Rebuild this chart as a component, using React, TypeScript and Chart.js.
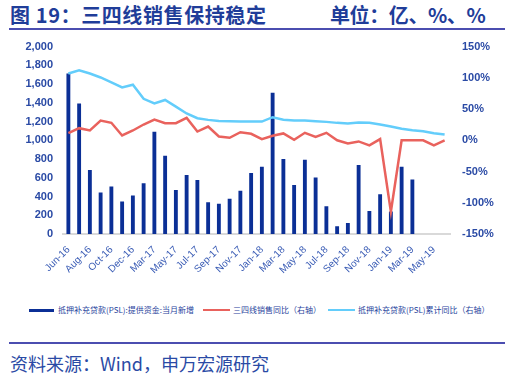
import React, { useEffect, useRef } from "react";
import { Chart, registerables } from "chart.js";

Chart.register(...registerables);

const categories = [
  "Jun-16", "Jul-16", "Aug-16", "Sep-16", "Oct-16", "Nov-16", "Dec-16", "Feb-17",
  "Mar-17", "Apr-17", "May-17", "Jun-17", "Jul-17", "Aug-17", "Sep-17", "Oct-17",
  "Nov-17", "Dec-17", "Jan-18", "Feb-18", "Mar-18", "Apr-18", "May-18", "Jun-18",
  "Jul-18", "Aug-18", "Sep-18", "Oct-18", "Nov-18", "Dec-18", "Jan-19", "Feb-19",
  "Mar-19", "Apr-19", "May-19", "Jun-19",
];

const pslMonthly = [
  1710, 1390, 680, 440, 503, 343, 407, 538, 1087, 832, 467, 627, 574, 336, 319, 372,
  457, 648, 713, 1505, 798, 520, 790, 600, 292, 80, 115, 733, 242, 422, 237, 715,
  578, null, null, null,
];

const salesYoY = [
  11.4, 19.4, 15.7, 31.6, 28, 7.7, 15.7, 25.3, 33.2, 27.4, 27.4, 35.9, 14, 22, 6.1, 4,
  13, 10.4, 1.9, 7.2, 11, 0.9, 12, 5.6, 12, 0, -5, -1.8, -8.2, 1.9, -114.4, 0,
  0, 0, -8, 0,
];

const pslCumYoY = [
  107, 112, 107, 100.6, 92.7, 84.7, 89, 66.4, 59, 64.6, 54, 43, 35.3, 32.7, 31, 30.5,
  30, 30, 30, 37, 33, 31.6, 31.6, 30.5, 29.5, 27.9, 27, 28.4, 27.9, 25.3, 22, 18.4,
  16.2, 14.6, 11.4, 9.3,
];

const leftTicks = [0, 200, 400, 600, 800, 1000, 1200, 1400, 1600, 1800, 2000];
const rightTicks = [-150, -100, -50, 0, 50, 100, 150];

const seriesNames = [
  "抵押补充贷款(PSL):提供资金:当月新增",
  "三四线销售同比（右轴）",
  "抵押补充贷款(PSL)累计同比（右轴）",
];

const BAR = "#0b2f96";
const RED = "#e9625d";
const CYAN = "#63cdfb";
const TEXT = "#2a4aa5";

export default function App() {
  const ref = useRef<HTMLCanvasElement | null>(null);

  useEffect(() => {
    if (!ref.current) return;
    const chart = new Chart(ref.current, {
      type: "bar",
      data: {
        labels: categories,
        datasets: [
          {
            type: "line",
            label: seriesNames[2],
            data: pslCumYoY,
            yAxisID: "y1",
            borderColor: CYAN,
            borderWidth: 2.5,
            pointRadius: 0,
            tension: 0,
            order: 1,
          },
          {
            type: "line",
            label: seriesNames[1],
            data: salesYoY,
            yAxisID: "y1",
            borderColor: RED,
            borderWidth: 2.5,
            pointRadius: 0,
            tension: 0,
            order: 0,
          },
          {
            type: "bar",
            label: seriesNames[0],
            data: pslMonthly,
            yAxisID: "y",
            backgroundColor: BAR,
            barThickness: 3.2,
            order: 2,
          },
        ],
      },
      options: {
        responsive: false,
        animation: false,
        layout: { padding: { top: 4, left: 0, right: 0, bottom: 0 } },
        plugins: { legend: { display: false }, tooltip: { enabled: false } },
        scales: {
          x: {
            grid: { display: false },
            border: { display: true, color: "#d9d9d9", width: 2 },
            ticks: {
              autoSkip: false,
              maxRotation: 45,
              minRotation: 45,
              padding: 2,
              color: "#3a5cb5",
              font: { family: "'Liberation Sans', Arial", size: 10 },
              callback: (_v: any, i: number) => (i % 2 === 0 ? categories[i] : ""),
            },
            afterFit: (s: any) => {
              s.height = 46;
            },
          },
          y: {
            position: "left",
            min: 0,
            max: 2000,
            grid: { display: false },
            border: { display: false },
            afterBuildTicks: (s: any) => {
              s.ticks = leftTicks.map((v) => ({ value: v }));
            },
            ticks: {
              padding: 2,
              color: TEXT,
              font: { family: "'Liberation Sans', Arial", size: 11, weight: "bold" },
              callback: (v: any) => Number(v).toLocaleString("en-US"),
            },
            afterFit: (s: any) => {
              s.width = 63;
            },
          },
          y1: {
            position: "right",
            min: -150,
            max: 150,
            grid: { display: false },
            border: { display: false },
            afterBuildTicks: (s: any) => {
              s.ticks = rightTicks.map((v) => ({ value: v }));
            },
            ticks: {
              padding: 4,
              color: TEXT,
              font: { family: "'Liberation Sans', Arial", size: 11, weight: "bold" },
              callback: (v: any) => v + "%",
            },
            afterFit: (s: any) => {
              s.width = 58;
            },
          },
        },
      },
    });
    return () => chart.destroy();
  }, []);

  const cjk = "'Noto Sans CJK SC', 'Liberation Sans', sans-serif";
  const legendItem = (x: number, lineX: number, lineW: number, color: string, text: string, thick: number) => (
    <>
      <div style={{ position: "absolute", left: lineX, top: 309, width: lineW, height: thick, background: color }} />
      <div style={{ position: "absolute", left: x, top: 303, fontSize: 8, lineHeight: "14px", color: "#1f3f9c", fontFamily: cjk, whiteSpace: "nowrap" }}>
        {text}
      </div>
    </>
  );

  return (
    <div style={{ position: "fixed", left: 0, top: 0, width: 508, height: 379, background: "#fff", overflow: "hidden" }}>
      <div style={{ position: "absolute", left: 10, top: 1, fontSize: 20, fontWeight: 700, color: "#1f3d99", fontFamily: cjk, whiteSpace: "nowrap", lineHeight: "28px", letterSpacing: "0.6px" }}>
        图 19：三四线销售保持稳定
      </div>
      <div style={{ position: "absolute", left: 330, top: 1, fontSize: 20, fontWeight: 700, color: "#1f3d99", fontFamily: cjk, whiteSpace: "nowrap", lineHeight: "28px", letterSpacing: "-0.4px" }}>
        单位：亿、%、%
      </div>
      <div style={{ position: "absolute", left: 9, top: 28, width: 496, height: 2, background: "#4b4db0" }} />
      <canvas ref={ref} width={508} height={244} style={{ position: "absolute", left: 0, top: 36, width: 508, height: 244 }} />
      {legendItem(58, 29, 25, BAR, seriesNames[0], 3)}
      {legendItem(233, 203, 27, RED, seriesNames[1], 2)}
      {legendItem(358, 328, 27, CYAN, seriesNames[2], 2)}
      <div style={{ position: "absolute", left: 9, top: 342, width: 496, height: 2, background: "#4b4db0" }} />
      <div style={{ position: "absolute", left: 10, top: 350, fontSize: 18, color: "#2a4aa5", fontFamily: cjk, whiteSpace: "nowrap", lineHeight: "26px" }}>
        资料来源：Wind，申万宏源研究
      </div>
    </div>
  );
}
